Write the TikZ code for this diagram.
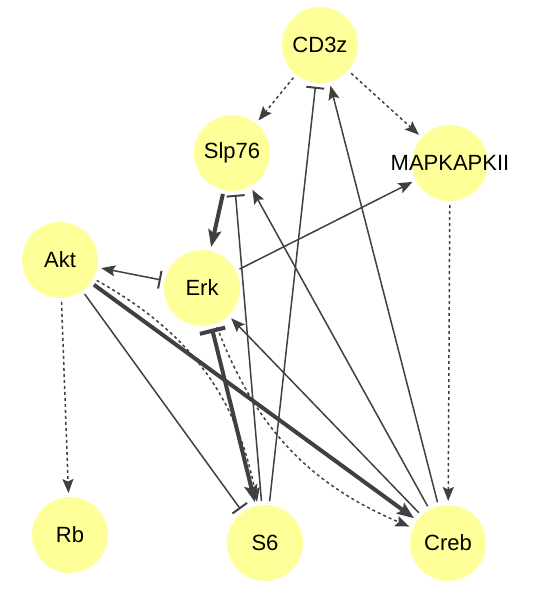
\documentclass[tikz,border=0pt]{standalone}
\usepackage{fontspec}
\setmainfont{Liberation Sans}
\usetikzlibrary{arrows.meta}
\definecolor{nodefill}{RGB}{255,255,153}
\definecolor{edgecol}{RGB}{64,64,64}
\begin{document}
\begin{tikzpicture}[x=1pt,y=-1pt,
  nd/.style={circle, fill=nodefill, minimum size=76pt, inner sep=0pt, outer sep=4pt,
    label={[font=\fontsize{22}{26}\selectfont]center:#1}},
  thin edge/.style={draw=edgecol, line width=1.5pt},
  act/.style={thin edge, -{Stealth[length=14pt,width=11pt,inset=2.5pt]}},
  dact/.style={thin edge, dash pattern=on 3pt off 3pt, -{Stealth[length=14pt,width=11pt,inset=2.5pt]}},
  inh/.style={thin edge, -{Bar[width=18pt,line width=2pt]}},
  tact/.style={draw=edgecol, line width=4pt, -{Stealth[length=17pt,width=13pt,inset=3pt]}},
]
\useasboundingbox (0,0) rectangle (540,590);
\node[nd=CD3z] (cd3z) at (320,45) {};
\node[nd=Slp76] (slp) at (232,153) {};
\node[nd=MAPKAPKII] (mapk) at (450,163) {};
\node[nd=Akt] (akt) at (60,260) {};
\node[nd=Erk] (erk) at (202,288) {};
\node[nd=Rb] (rb) at (70,535) {};
\node[nd=S6] (s6) at (265,543) {};
\node[nd=Creb] (creb) at (448,543) {};

\draw[dact] (cd3z) -- (slp);
\draw[dact] (cd3z) -- (mapk);
\draw[inh] (s6) -- (cd3z);
\draw[act] (creb) -- (cd3z);
\draw[act] (creb) -- (slp);
\draw[act] (creb) -- (erk);
\draw[act] (erk) -- (mapk);
\draw[dact] (mapk) -- (creb);
\draw[dact] (akt) -- (rb);
\draw[tact] (slp) -- (erk);
\draw[inh] (s6) -- (slp);
\draw[thin edge, {Bar[width=18pt,line width=2pt]}-{Stealth[length=14pt,width=11pt,inset=2.5pt]}] (erk) -- (akt);
\draw[tact] (akt) -- (creb);
\draw[inh] (akt) -- (s6);
\draw[dact] (akt) to[bend left=25] (s6);
\draw[dact] (erk) to[bend right=23] (creb);
\draw[draw=edgecol, line width=4pt, {Bar[width=26pt,line width=4pt]}-{Stealth[length=17pt,width=13pt,inset=3pt]}] (erk) -- (s6);
\end{tikzpicture}
\end{document}
